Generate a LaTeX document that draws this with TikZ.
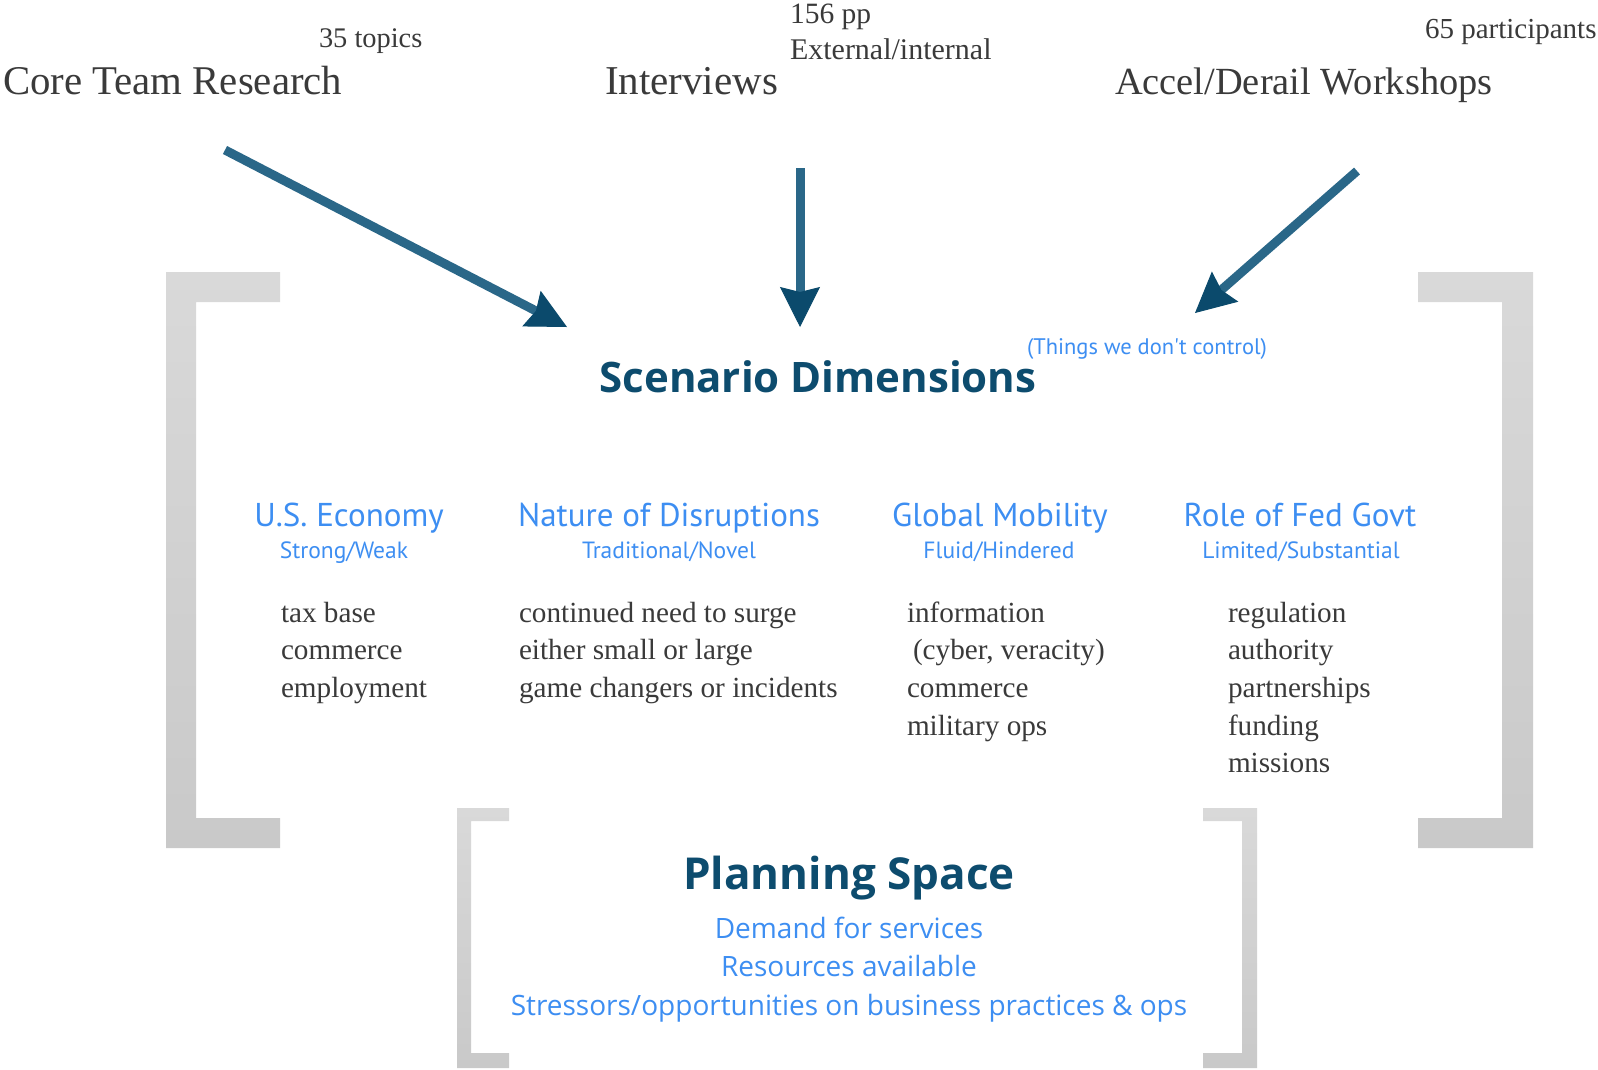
\documentclass[tikz,border=0pt]{standalone}
\usepackage{fontspec}
\setmainfont{Liberation Serif}
\newfontfamily\osans{Open Sans}
\newfontfamily\ptsans{PT Sans}
\usetikzlibrary{arrows.meta}
\definecolor{navy}{HTML}{0D4C6E}
\definecolor{arrowc}{HTML}{2A6788}
\definecolor{arrowh}{HTML}{0B4A6C}
\definecolor{skyb}{HTML}{3D8EF2}
\definecolor{txt}{HTML}{3A3A3A}
\definecolor{brtop}{HTML}{D9D9D9}
\definecolor{brbot}{HTML}{C9C9C9}
\begin{document}
\begin{tikzpicture}[x=1pt,y=-1pt,
  every node/.style={inner sep=0pt, outer sep=0pt},
  srcbig/.style={font=\fontsize{39}{45}\selectfont, text=txt, anchor=base west},
  srcsmall/.style={font=\fontsize{29}{33}\selectfont, text=txt, anchor=base west},
  item/.style={font=\fontsize{29.2}{33}\selectfont, text=txt, anchor=base west},
  colhead/.style={font=\ptsans\fontsize{33}{38}\selectfont, text=skyb, anchor=base},
  colsub/.style={font=\ptsans\fontsize{23.5}{27}\selectfont, text=skyb, anchor=base},
  title/.style={font=\osans\bfseries\fontsize{44}{50}\selectfont, text=navy, anchor=base},
  plan/.style={font=\osans\fontsize{28}{32}\selectfont, text=skyb, anchor=base},
  feed/.style={line width=9pt, draw=arrowc, -{Stealth[length=40pt,width=40pt,inset=5pt,line width=1pt,color=arrowh]}},
  bracket/.style={top color=brtop, bottom color=brbot, draw=none}
]
\useasboundingbox (0,0) rectangle (1598,1069);
\fill[white] (0,0) rectangle (1598,1069);

% brackets
\shade[bracket] (166,272) -- (280,272) -- (280,302) -- (196,302) -- (196,818) -- (280,818) -- (280,848) -- (166,848) -- cycle;
\shade[bracket] (1533,272) -- (1418,272) -- (1418,302) -- (1502,302) -- (1502,818) -- (1418,818) -- (1418,848) -- (1533,848) -- cycle;
\shade[bracket] (457,808) -- (509,808) -- (509,821) -- (471,821) -- (471,1053) -- (509,1053) -- (509,1068) -- (457,1068) -- cycle;
\shade[bracket] (1257,808) -- (1203,808) -- (1203,821) -- (1242,821) -- (1242,1053) -- (1203,1053) -- (1203,1068) -- (1257,1068) -- cycle;

% sources
\node[srcbig, font=\fontsize{40.8}{45}\selectfont] (core) at (3,94) {Core Team Research};
\node[srcsmall, font=\fontsize{28.4}{33}\selectfont] (topics) at (319,47) {35 topics};
\node[srcbig, font=\fontsize{41}{45}\selectfont] (intv) at (605,94) {Interviews};
\node[srcsmall, font=\fontsize{29.5}{33}\selectfont] (pp) at (790,23) {156 pp};
\node[srcsmall, font=\fontsize{30}{33}\selectfont] (extint) at (790,59) {External/internal};
\node[srcbig, font=\fontsize{38.4}{45}\selectfont] (accel) at (1115,94) {Accel/Derail Workshops};
\node[srcsmall] (parts) at (1425,38) {65 participants};

% arrows
\coordinate (a1s) at (225,150); \coordinate (a1e) at (567,327);
\coordinate (a2s) at (800,168); \coordinate (a2e) at (800,327);
\coordinate (a3s) at (1357,171); \coordinate (a3e) at (1195,313);
\draw[feed] (a1s) -- (a1e);
\draw[feed] (a2s) -- (a2e);
\draw[feed] (a3s) -- (a3e);

% scenario dimensions
\node[title, font=\osans\bfseries\fontsize{42}{48}\selectfont] (scen) at (818,392) {Scenario Dimensions};
\node[font=\ptsans\fontsize{22.5}{26}\selectfont, text=skyb, anchor=base west] (ctrl) at (1027,354) {(Things we don't control)};

\node[colhead] (h1) at (349,526) {U.S. Economy};
\node[colsub] (s1) at (344,558) {Strong/Weak};
\node[colhead] (h2) at (669,526) {Nature of Disruptions};
\node[colsub] (s2) at (669,558) {Traditional/Novel};
\node[colhead] (h3) at (1000,526) {Global Mobility};
\node[colsub] (s3) at (999,558) {Fluid/Hindered};
\node[colhead] (h4) at (1300,526) {Role of Fed Govt};
\node[colsub] (s4) at (1301,558) {Limited/Substantial};

\node[item] (i11) at (281,622) {tax base};
\node[item] (i12) at (281,659) {commerce};
\node[item] (i13) at (281,697) {employment};

\node[item] (i21) at (519,622) {continued need to surge};
\node[item] (i22) at (519,659) {either small or large};
\node[item] (i23) at (519,697) {game changers or incidents};

\node[item] (i31) at (907,622) {information};
\node[item] (i32) at (913,659) {(cyber, veracity)};
\node[item] (i33) at (907,697) {commerce};
\node[item] (i34) at (907,735) {military ops};

\node[item] (i41) at (1228,622) {regulation};
\node[item] (i42) at (1228,659) {authority};
\node[item] (i43) at (1228,697) {partnerships};
\node[item] (i44) at (1228,735) {funding};
\node[item] (i45) at (1228,772) {missions};

% planning space
\node[title] (plan) at (849,889) {Planning Space};
\node[plan] (p1) at (849,938) {Demand for services};
\node[plan] (p2) at (849,976) {Resources available};
\node[plan] (p3) at (849,1015) {Stressors/opportunities on business practices \& ops};
\end{tikzpicture}
\end{document}
